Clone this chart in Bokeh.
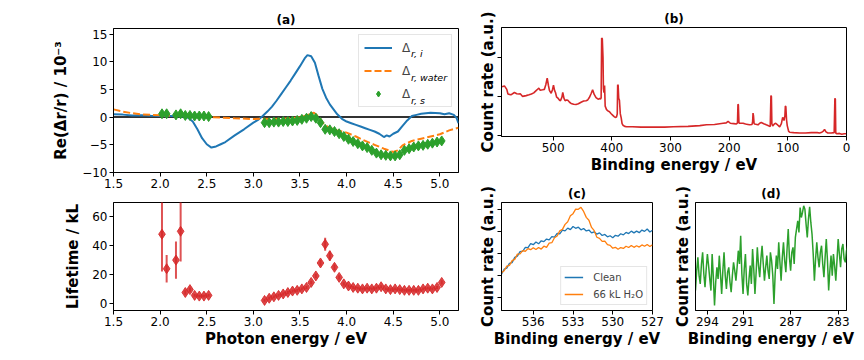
import numpy as np
from bokeh.plotting import figure
from bokeh.layouts import row, column
from bokeh.models import (Range1d, FixedTicker, CustomJSTickFormatter, NumeralTickFormatter,
                          Legend, LegendItem, Label, Span)
from bokeh.embed import file_html
from bokeh.resources import INLINE

FONT = "DejaVu Sans"
BLUE, ORANGE, GREEN, RED = "#1f77b4", "#ff7f0e", "#2ca02c", "#d62728"

# ---------------- data: panel (a) ----------------
ri_x = [1.50, 1.60, 1.70, 1.80, 1.90, 2.00, 2.10, 2.20,
        2.25, 2.30, 2.35, 2.40, 2.45, 2.50, 2.55, 2.60, 2.65, 2.70,
        2.80, 2.90, 3.00,
        3.05, 3.10, 3.15, 3.20, 3.25, 3.30, 3.35, 3.40, 3.45, 3.50, 3.55,
        3.58, 3.62, 3.66, 3.70, 3.74, 3.78, 3.82, 3.86, 3.90,
        3.95, 4.00, 4.05, 4.10, 4.15, 4.20, 4.25, 4.30, 4.35, 4.40,
        4.43, 4.46,
        4.50, 4.55, 4.60, 4.65, 4.70, 4.75, 4.80,
        4.90, 5.00, 5.05, 5.10, 5.15, 5.18, 5.20]
ri_y = [0.5, 0.45, 0.3, 0.35, 0.25, 0.2, 0.2, 0.15,
        0.1, -0.1, -0.8, -2.2, -3.8, -4.9, -5.5, -5.3, -4.9, -4.5,
        -3.3, -2.2, -1.0,
        -0.5, 0.2, 1.0, 1.9, 3.0, 4.2, 5.4, 6.6, 7.9, 9.2, 10.6,
        11.2, 11.0, 9.8, 7.4, 5.1, 3.5, 2.3, 1.4, 0.5,
        -0.3, -0.8, -1.1, -1.4, -1.7, -2.0, -2.3, -2.6, -3.0, -3.6,
        -3.3, -3.5,
        -3.0, -2.6, -1.6, -0.6, 0.2, 0.4, 0.6,
        0.8, 0.7, 0.5, 0.7, 0.4, -0.2, -1.1]

rw_x = [1.50, 1.60, 1.70, 1.80, 1.90, 2.00, 2.20, 2.50, 2.80, 3.00,
        3.10, 3.20, 3.30, 3.40, 3.50, 3.55, 3.60, 3.65, 3.70, 3.75,
        3.80, 3.90, 4.00, 4.10, 4.20, 4.30, 4.40, 4.50, 4.55, 4.60,
        4.70, 4.80, 4.90, 5.00, 5.10, 5.20]
rw_y = [1.4, 1.0, 0.7, 0.5, 0.4, 0.35, 0.25, 0.05, -0.2, -0.35,
        -0.3, -0.35, -0.3, -0.2, 0.0, 0.2, 0.5, 0.8, 0.1, -1.1,
        -1.8, -2.4, -2.8, -3.5, -4.3, -5.0, -5.7, -6.3, -6.0, -5.1,
        -4.3, -3.9, -3.5, -3.1, -2.4, -1.9]

s_x = [2.02, 2.07, 2.17, 2.22, 2.27, 2.32, 2.37, 2.42, 2.47, 2.52,
       3.12, 3.17, 3.22, 3.27, 3.32, 3.37, 3.42, 3.47, 3.52, 3.57,
       3.62, 3.67, 3.72, 3.77, 3.82, 3.87, 3.92, 3.97, 4.02, 4.07,
       4.12, 4.17, 4.22, 4.27, 4.32, 4.37, 4.42, 4.47, 4.52, 4.57,
       4.62, 4.67, 4.72, 4.77, 4.82, 4.87, 4.92, 4.97, 5.02]
rs_y = [0.6, 0.6, 0.4, 0.6, 0.3, 0.3, 0.2, 0.2, 0.2, 0.1,
        -1.0, -1.0, -0.9, -0.9, -0.8, -0.8, -0.7, -0.6, -0.4, -0.2,
        0.1, -0.2, -1.0, -2.2, -2.3, -2.6, -3.0, -3.5, -4.0, -4.4,
        -4.8, -5.2, -5.5, -6.0, -6.5, -6.8, -6.9, -7.0, -7.0, -6.8,
        -6.0, -5.7, -5.4, -5.2, -5.1, -4.9, -4.7, -4.5, -4.3]
rs_err = [0.5, 0.5, 0.5, 0.5, 0.5, 0.5, 0.5, 0.5, 0.5, 0.5,
          0.4, 0.4, 0.4, 0.4, 0.4, 0.4, 0.4, 0.4, 0.4, 0.4,
          0.4, 0.4, 0.4, 0.4, 0.4, 0.4, 0.4, 0.4, 0.4, 0.4,
          0.4, 0.4, 0.4, 0.4, 0.4, 0.4, 0.4, 0.4, 0.4, 0.4,
          0.4, 0.4, 0.4, 0.4, 0.4, 0.4, 0.4, 0.4, 0.4]

# ---------------- data: lifetime ----------------
lt_y = [48, 24, 30, 50, 7.5, 9.5, 5.5, 5, 5, 5.5,
        2, 3.5, 4.5, 5.5, 6.5, 7.5, 8.5, 9, 10, 11,
        14.5, 19, 28, 41, 33, 25, 18, 13.5, 12, 11,
        10.5, 10, 10.5, 10, 10.5, 11.5, 10, 9.5, 10, 9.5,
        9, 9, 9, 9, 10, 10.5, 10, 11, 14.5]
lt_err = [26, 9.5, 13, 21, 1.5, 1.5, 1, 1, 1, 1,
          1, 1, 1, 1, 1, 1, 1, 1, 1, 1,
          1.2, 1.5, 2, 4.5, 3.5, 2, 1.5, 1.2, 1, 1,
          1, 1, 1, 1, 1, 1, 1, 1, 1, 1,
          1, 1, 1, 1, 1, 1, 1, 1, 1.5]

# ---------------- data: panel (b) survey ----------------
b_x = [587, 583, 579, 577, 572, 566, 562, 558, 556, 552,
       546, 541, 537, 533, 529, 526, 524.4, 522, 518, 515,
       512.5, 510.1, 508, 506.2, 503.3, 501, 499.4, 497.5, 496, 494,
       492, 489, 487.5, 485, 483.6, 481.5, 479.6, 477, 475, 472,
       469.4, 465, 461, 457, 452.4, 448, 443.9, 441, 438.3, 435,
       432.7, 430, 426.9, 424.5, 422.5, 420.5, 419.3, 418.2, 417.3, 416.2,
       415.0, 414.3, 413.3, 412.3, 411.3, 409, 406, 404.3, 401.5, 398.7,
       396, 394.1, 392, 390.7, 390.0, 389.2, 388.2, 387.0, 385.5, 384,
       382.5, 381, 378, 375, 365, 350, 330, 310, 295, 270,
       250, 238.7, 225, 210.3, 205, 201.8, 198, 192, 187.7, 185.8,
       185.0, 184.3, 183.3, 182.6, 179, 176.3, 172, 168, 164.9, 161,
       160.0, 159.3, 158.5, 157.5, 156.4, 153, 150.7, 148, 145.2, 141,
       136.7, 132, 130, 128.8, 128.0, 127.2, 125.8, 123, 120.7, 117,
       113.9, 111, 108.8, 108.0, 106.5, 105, 104.2, 103.4, 102.2, 101,
       98.5, 96.9, 90, 80, 70, 60, 50, 45.9, 42, 39.5,
       37.4, 35, 31.8, 26, 21, 19.8, 19.0, 18.3, 16.4, 12,
       8, 4, 0.6]
b_y = [1.25, 1.27, 1.18, 1.06, 1.04, 1.10, 1.07, 1.06, 1.07, 1.00,
       1.02, 1.04, 1.06, 1.09, 1.15, 1.19, 1.21, 1.16, 1.17, 1.18,
       1.30, 1.47, 1.28, 1.15, 1.08, 1.18, 1.29, 1.15, 1.10, 0.98,
       0.96, 0.90, 0.89, 0.98, 1.10, 0.95, 0.89, 0.91, 0.90, 0.85,
       0.82, 0.80, 0.79, 0.81, 0.85, 0.88, 0.89, 0.91, 0.97, 1.08,
       1.17, 1.05, 0.97, 0.94, 0.93, 0.95, 0.93, 0.96, 2.50, 2.48,
       2.00, 1.20, 1.10, 1.28, 0.75, 0.66, 0.62, 0.61, 0.56, 0.52,
       0.48, 0.46, 0.47, 0.55, 1.30, 1.28, 0.95, 0.90, 0.55, 0.45,
       0.30, 0.26, 0.23, 0.22, 0.22, 0.21, 0.21, 0.21, 0.22, 0.23,
       0.25, 0.27, 0.28, 0.31, 0.32, 0.36, 0.31, 0.30, 0.29, 0.32,
       0.80, 0.78, 0.33, 0.31, 0.31, 0.31, 0.29, 0.28, 0.27, 0.28,
       0.35, 0.57, 0.50, 0.30, 0.29, 0.28, 0.27, 0.31, 0.33, 0.30,
       0.27, 0.24, 0.23, 1.02, 1.00, 0.30, 0.24, 0.29, 0.31, 0.26,
       0.22, 0.30, 0.46, 0.44, 0.38, 0.50, 0.75, 0.74, 0.40, 0.25,
       0.10, 0.08, 0.07, 0.06, 0.06, 0.07, 0.07, 0.06, 0.08, 0.11,
       0.15, 0.09, 0.06, 0.06, 0.07, 0.95, 0.93, 0.06, 0.04, 0.05,
       0.03, 0.04, 0.04]

# ---------------- data: panel (c) O 1s ----------------
c_x = [538.4, 538.2, 538.0, 537.8, 537.6, 537.4, 537.2, 537.0, 536.8, 536.6,
       536.4, 536.2, 536.0, 535.8, 535.6, 535.4, 535.2, 535.0, 534.8, 534.6,
       534.4, 534.2, 534.0, 533.8, 533.6, 533.4, 533.2, 533.0, 532.8, 532.6,
       532.4, 532.2, 532.0, 531.8, 531.6, 531.4, 531.2, 531.0, 530.8, 530.6,
       530.4, 530.2, 530.0, 529.8, 529.6, 529.4, 529.2, 529.0, 528.8, 528.6,
       528.4, 528.2, 528.0, 527.8, 527.6, 527.4, 527.2, 527.0]
c_clean = [1.05, 1.28, 1.33, 1.55, 1.58, 1.82, 1.88, 2.08, 2.10, 2.28,
           2.27, 2.45, 2.40, 2.52, 2.44, 2.58, 2.54, 2.66, 2.62, 2.77,
           2.75, 2.92, 2.90, 3.07, 3.03, 3.16, 3.09, 3.23, 3.15, 3.20,
           3.08, 3.14, 3.03, 3.07, 2.94, 2.99, 2.88, 2.94, 2.82, 2.87,
           2.76, 2.81, 2.72, 2.83, 2.79, 2.90, 2.85, 2.96, 2.91, 3.02,
           2.94, 3.02, 2.95, 3.07, 3.01, 3.12, 2.98, 3.06]
c_water = [1.12, 1.21, 1.42, 1.45, 1.67, 1.73, 1.97, 1.98, 2.13, 2.10,
           2.22, 2.17, 2.26, 2.18, 2.27, 2.20, 2.33, 2.28, 2.47, 2.49,
           2.72, 2.80, 3.03, 3.10, 3.33, 3.45, 3.72, 3.82, 4.03, 4.02,
           4.11, 3.92, 3.65, 3.52, 3.19, 3.04, 2.74, 2.69, 2.55, 2.56,
           2.40, 2.37, 2.24, 2.28, 2.19, 2.27, 2.23, 2.33, 2.27, 2.36,
           2.28, 2.35, 2.29, 2.39, 2.33, 2.41, 2.32, 2.40]

# ---------------- data: panel (d) C 1s ----------------
d_x = [295.0, 294.9, 294.8, 294.7, 294.6, 294.5, 294.4, 294.3, 294.2, 294.1,
       294.0, 293.9, 293.8, 293.7, 293.6, 293.5, 293.4, 293.3, 293.2, 293.1,
       293.0, 292.9, 292.8, 292.7, 292.6, 292.5, 292.4, 292.3, 292.2, 292.1,
       292.0, 291.9, 291.8, 291.7, 291.6, 291.5, 291.4, 291.3, 291.2, 291.1,
       291.0, 290.9, 290.8, 290.7, 290.6, 290.5, 290.4, 290.3, 290.2, 290.1,
       290.0, 289.9, 289.8, 289.7, 289.6, 289.5, 289.4, 289.3, 289.2, 289.1,
       289.0, 288.9, 288.8, 288.7, 288.6, 288.5, 288.4, 288.3, 288.2, 288.1,
       288.0, 287.9, 287.8, 287.7, 287.6, 287.5, 287.4, 287.3, 287.2, 287.1,
       287.0, 286.9, 286.8, 286.7, 286.6, 286.5, 286.4, 286.3, 286.2, 286.1,
       286.0, 285.9, 285.8, 285.7, 285.6, 285.5, 285.4, 285.3, 285.2, 285.1,
       285.0, 284.9, 284.8, 284.7, 284.6, 284.5, 284.4, 284.3, 284.2, 284.1,
       284.0, 283.9, 283.8, 283.7, 283.6, 283.5, 283.4, 283.3, 283.2, 283.1,
       283.0, 282.9, 282.8, 282.7, 282.6, 282.5, 282.4, 282.3, 282.2]
d_y = [0.60, 1.20, 1.60, 1.05, 0.80, 1.40, 1.75, 1.10, 0.70, 1.25,
       1.70, 1.35, 0.95, 0.60, 1.70, 1.00, 0.15, 0.85, 1.30, 0.95,
       1.65, 1.10, 0.50, 1.20, 1.75, 1.05, 0.65, 1.15, 1.30, 0.85,
       0.55, 1.05, 1.45, 1.20, 0.90, 1.30, 1.80, 1.40, 2.25, 1.10,
       0.50, 1.25, 1.70, 0.80, 0.45, 0.95, 1.35, 0.80, 1.85, 1.25,
       0.50, 1.15, 1.90, 1.35, 1.00, 1.55, 1.95, 1.40, 0.90, 1.30,
       1.65, 1.20, 0.95, 1.75, 1.50, 1.05, 0.20, 1.10, 1.65, 1.25,
       2.05, 1.45, 0.90, 1.60, 2.05, 1.50, 1.15, 1.85, 2.45, 1.60,
       1.20, 1.75, 1.90, 1.40, 2.20, 2.45, 2.70, 2.35, 3.10, 2.80,
       2.95, 3.15, 3.05, 2.60, 2.20, 2.75, 3.12, 2.65, 2.30, 1.70,
       0.90, 1.55, 2.05, 1.60, 1.30, 1.75, 1.95, 1.40, 1.00, 1.60,
       2.15, 1.50, 0.60, 1.20, 1.65, 1.05, 1.70, 1.35, 0.90, 1.50,
       2.15, 1.70, 1.30, 1.85, 2.00, 1.55, 1.45, 1.80, 1.95]

EMPTY = "return ''"


def make_fig(w, h, xr, yr, bl, br, bt, bb, title=None):
    kw = dict(width=w, height=h, x_range=Range1d(*xr), y_range=Range1d(*yr),
              output_backend="svg", toolbar_location=None,
              min_border_left=bl, min_border_right=br,
              min_border_top=bt, min_border_bottom=bb)
    if title is not None:
        kw["title"] = title
    p = figure(**kw)
    p.xgrid.visible = False
    p.ygrid.visible = False
    p.outline_line_color = "black"
    p.outline_line_alpha = 1.0
    p.outline_line_width = 1
    p.background_fill_color = "white"
    p.border_fill_color = "white"
    for ax in p.axis:
        ax.axis_line_color = "black"
        ax.major_tick_line_color = "black"
        ax.minor_tick_line_color = None
        ax.major_tick_in = 0
        ax.major_tick_out = 4
        ax.major_label_standoff = 2
        ax.major_label_text_font = FONT
        ax.major_label_text_font_size = "12px"
        ax.major_label_text_color = "black"
        ax.axis_label_text_font = FONT
        ax.axis_label_text_font_size = "15px"
        ax.axis_label_text_font_style = "bold"
        ax.axis_label_text_color = "black"
        ax.axis_label_standoff = 1
    if title is not None:
        p.title.text_font = FONT
        p.title.text_font_size = "12px"
        p.title.text_font_style = "bold"
        p.title.align = "center"
        p.title.standoff = 3
        p.title.text_color = "black"
    return p


# ---------------- panel (a) ----------------
pa = make_fig(470, 196, (1.5, 5.2), (-10, 16), 113, 12, 28, 24, title="(a)")
pa.xaxis.ticker = FixedTicker(ticks=[1.5, 2.0, 2.5, 3.0, 3.5, 4.0, 4.5, 5.0])
pa.xaxis.formatter = NumeralTickFormatter(format="0.0")
pa.yaxis.ticker = FixedTicker(ticks=[-10, -5, 0, 5, 10, 15])
pa.yaxis.formatter = CustomJSTickFormatter(
    code="return tick < 0 ? '\u2212' + String(-tick) : String(tick);")
pa.yaxis.axis_label = "Re(\u0394r/r) / 10\u207b\u00b3"
pa.yaxis.axis_label_standoff = 9
pa.add_layout(Span(location=0, dimension="width", line_color="#333333",
                   line_width=2, level="underlay"))
r_i = pa.line(ri_x, ri_y, line_color=BLUE, line_width=2)
r_w = pa.line(rw_x, rw_y, line_color=ORANGE, line_width=2, line_dash="7 3")
s_lo = [y - e for y, e in zip(rs_y, rs_err)]
s_hi = [y + e for y, e in zip(rs_y, rs_err)]
pa.segment(x0=s_x, y0=s_lo, x1=s_x, y1=s_hi, line_color=GREEN, line_width=1.5)
r_s = pa.scatter(s_x, rs_y, marker="diamond", size=10, fill_color=GREEN, line_color=GREEN)

leg_a = Legend(items=[LegendItem(label="\u0394", renderers=[r_i]),
                      LegendItem(label="\u0394", renderers=[r_w]),
                      LegendItem(label="\u0394", renderers=[r_s])],
               location="top_right", margin=6, padding=5, spacing=8,
               glyph_width=28, glyph_height=15, label_height=15, label_width=44,
               label_standoff=10, label_text_font=FONT, label_text_font_size="12px",
               border_line_color="#cccccc", border_line_width=1,
               background_fill_alpha=0.0)
pa.add_layout(leg_a)
for txt, yy in (("r, i", 11.40), ("r, water", 7.24), ("r, s", 3.09)):
    pa.add_layout(Label(x=4.69, y=yy, text=txt, text_font=FONT, text_font_size="9.5px",
                        text_font_style="italic", text_baseline="alphabetic",
                        text_color="black", level="overlay"))

# ---------------- lifetime panel ----------------
pl = make_fig(470, 155, (1.5, 5.2), (-5, 70), 113, 12, 6, 41)
pl.xaxis.ticker = FixedTicker(ticks=[1.5, 2.0, 2.5, 3.0, 3.5, 4.0, 4.5, 5.0])
pl.xaxis.formatter = NumeralTickFormatter(format="0.0")
pl.yaxis.ticker = FixedTicker(ticks=[0, 20, 40, 60])
pl.xaxis.axis_label = "Photon energy / eV"
pl.yaxis.axis_label = "Lifetime / kL"
pl.yaxis.axis_label_standoff = 7
l_lo = [y - e for y, e in zip(lt_y, lt_err)]
l_hi = [y + e for y, e in zip(lt_y, lt_err)]
pl.segment(x0=s_x, y0=l_lo, x1=s_x, y1=l_hi, line_color=RED, line_width=2, line_alpha=0.8)
pl.scatter(s_x, lt_y, marker="diamond", size=10, fill_color=RED, line_color=RED,
           fill_alpha=0.85, line_alpha=0.85)

# ---------------- panel (b) ----------------
pb = make_fig(386, 178, (588, 0), (-0.03, 2.77), 31, 10, 27, 42, title="(b)")
pb.xaxis.ticker = FixedTicker(ticks=[500, 400, 300, 200, 100, 0])
pb.yaxis.ticker = FixedTicker(ticks=[0, 1, 2])
pb.yaxis.formatter = CustomJSTickFormatter(code=EMPTY)
pb.yaxis.major_label_standoff = 0
pb.xaxis.axis_label = "Binding energy / eV"
pb.yaxis.axis_label = "Count rate (a.u.)"
pb.line(b_x, b_y, line_color=RED, line_width=1.6)

# ---------------- panel (c) ----------------
pc = make_fig(200, 173, (538.4, 527), (-0.61, 4.33), 31, 18, 24, 41, title="(c)")
pc.xaxis.ticker = FixedTicker(ticks=[536, 533, 530, 527])
pc.yaxis.ticker = FixedTicker(ticks=[0, 1, 2, 3, 4])
pc.yaxis.formatter = CustomJSTickFormatter(code=EMPTY)
pc.yaxis.major_label_standoff = 0
pc.xaxis.axis_label = "Binding energy / eV"
pc.yaxis.axis_label = "Count rate (a.u.)"
rc1 = pc.line(c_x, c_clean, line_color=BLUE, line_width=1.3)
rc2 = pc.line(c_x, c_water, line_color=ORANGE, line_width=1.3)
leg_c = Legend(items=[LegendItem(label="Clean", renderers=[rc1]),
                      LegendItem(label="66 kL H\u2082O", renderers=[rc2])],
               location="bottom_right", margin=5, padding=3, spacing=3,
               glyph_width=19, glyph_height=14, label_height=14, label_standoff=10,
               label_text_font=FONT, label_text_font_size="10px",
               border_line_color="#cccccc", border_line_width=1,
               background_fill_alpha=0.8)
pc.add_layout(leg_c)

# ---------------- panel (d) ----------------
pd_ = make_fig(186, 173, (295.0, 282.3), (0, 3.25), 24, 10, 24, 41, title="(d)")
pd_.xaxis.ticker = FixedTicker(ticks=[294, 291, 287, 283])
pd_.yaxis.ticker = FixedTicker(ticks=[])
pd_.yaxis.formatter = CustomJSTickFormatter(code=EMPTY)
pd_.yaxis.major_tick_out = 0
pd_.yaxis.major_label_standoff = 0
pd_.yaxis.axis_label_standoff = 4
pd_.xaxis.axis_label = "Binding energy / eV"
pd_.yaxis.axis_label = "Count rate (a.u.)"
pd_.line(d_x, d_y, line_color=GREEN, line_width=1.5)

layout = row(column(pa, pl), column(pb, row(pc, pd_)))

open("out.html", "w").write(file_html(layout, INLINE))
